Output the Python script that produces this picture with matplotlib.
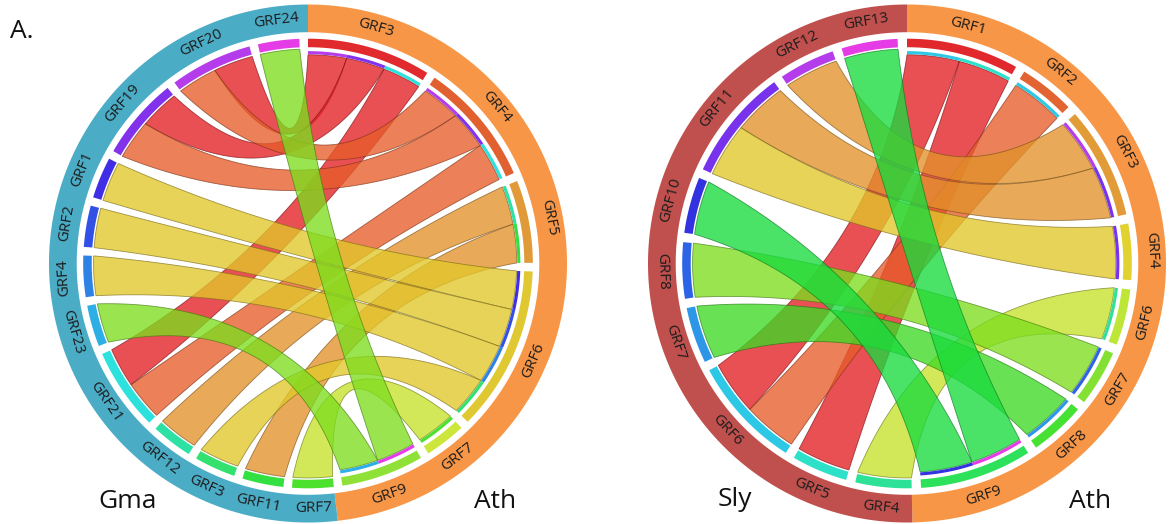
import numpy as np
import matplotlib
matplotlib.use("Agg")
import matplotlib.pyplot as plt
from matplotlib.patches import Polygon
from matplotlib.colors import to_rgb

plt.rcParams['font.family'] = ['Open Sans', 'DejaVu Sans']

# ---------------- data ----------------
# Panel 1: soybean (Gma) GRFs linked to Arabidopsis (Ath) GRFs
p1_ath_genes = ["GRF3", "GRF4", "GRF5", "GRF6", "GRF7", "GRF9"]
p1_gma_genes = ["GRF7", "GRF11", "GRF3", "GRF12", "GRF21", "GRF23",
                "GRF4", "GRF2", "GRF1", "GRF19", "GRF20", "GRF24"]
p1_link_gma      = ["GRF20", "GRF19", "GRF21", "GRF20", "GRF19", "GRF21", "GRF12", "GRF11",
                    "GRF1", "GRF2", "GRF4", "GRF3", "GRF7", "GRF24", "GRF23"]
p1_link_gma_slot = [1, 1, 1, 0, 0, 0, 0, 0, 0, 0, 0, 0, 0, 0, 0]
p1_link_ath      = ["GRF3", "GRF3", "GRF3", "GRF4", "GRF4", "GRF4", "GRF5", "GRF5",
                    "GRF6", "GRF6", "GRF6", "GRF6", "GRF7", "GRF9", "GRF9"]
p1_link_ath_slot = [0, 1, 2, 0, 1, 2, 0, 1, 0, 1, 2, 3, 0, 0, 1]
p1_link_level    = [0, 0, 0, 1, 1, 1, 2, 2, 3, 3, 3, 3, 4, 5, 5]

# Panel 2: tomato (Sly) GRFs linked to Arabidopsis (Ath) GRFs
p2_ath_genes = ["GRF1", "GRF2", "GRF3", "GRF4", "GRF6", "GRF7", "GRF8", "GRF9"]
p2_sly_genes = ["GRF4", "GRF5", "GRF6", "GRF7", "GRF8", "GRF10", "GRF11", "GRF12", "GRF13"]
p2_link_sly      = ["GRF6", "GRF5", "GRF6", "GRF12", "GRF11", "GRF11", "GRF4", "GRF8",
                    "GRF7", "GRF13", "GRF10"]
p2_link_sly_slot = [1, 0, 0, 0, 1, 0, 0, 0, 0, 0, 0]
p2_link_ath      = ["GRF1", "GRF1", "GRF2", "GRF3", "GRF3", "GRF4", "GRF6", "GRF7",
                    "GRF8", "GRF9", "GRF9"]
p2_link_ath_slot = [0, 1, 0, 0, 1, 0, 0, 0, 0, 0, 1]
p2_link_level    = [0, 0, 1, 2, 2, 3, 4, 5, 6, 7, 7]

# ---------------- styling ----------------
LEVEL_COLORS = ["#e21f24", "#e65c2a", "#e2922a", "#e2c72a",
                "#c7e22a", "#7cdd1e", "#3dda24", "#18db3d"]
p1_ath_colors = ["#e02a2e", "#e06030", "#e09a38", "#e0c832", "#cde63c", "#90e137"]
p1_gma_colors = ["#4be12d", "#32e141", "#32e16e", "#2de1a5", "#2de1dc", "#2dafe6",
                 "#2d82e6", "#3250e6", "#412de6", "#8232eb", "#b43ceb", "#e43ce6"]
p2_ath_colors = ["#e1282d", "#e16432", "#e19b37", "#e1d232", "#bee637", "#82e132",
                 "#46e132", "#2de15a"]
p2_sly_colors = ["#2de196", "#2de1c8", "#2dc8e6", "#2d96e6", "#2d64e6", "#3232e1",
                 "#7832eb", "#b43ceb", "#e63ce6"]

RING_ATH = "#f79646"
RING_GMA = "#4bacc6"
RING_SLY = "#c0504d"
TEXT_COL = "#1c1c1c"

W, H = 1171, 524
fig = plt.figure(figsize=(W / 100, H / 100), dpi=100)
ax = fig.add_axes([0, 0, 1, 1])
ax.set_xlim(0, W)
ax.set_ylim(H, 0)
ax.axis("off")

R_RING = (0.893, 1.0)
R_SECTOR = (0.835, 0.868)
R_STRIP = (0.808, 0.820)
R_SRC_END = 0.828
R_TGT_END = 0.806
R_LABEL = 0.946
BEND = 0.3


def xy(cx, cy, R, r, deg):
    t = np.radians(deg)
    return cx + R * r * np.cos(t), cy - R * r * np.sin(t)


def annulus(cx, cy, R, a0, a1, r0, r1, n=80):
    th = np.linspace(a0, a1, n)
    xo, yo = xy(cx, cy, R, r1, th)
    xi, yi = xy(cx, cy, R, r0, th[::-1])
    return np.column_stack([np.r_[xo, xi], np.r_[yo, yi]])


def bezier(cx, cy, R, r0, a0, r1, a1, n=120):
    p0 = np.array([r0 * np.cos(np.radians(a0)), r0 * np.sin(np.radians(a0))])
    p2 = np.array([r1 * np.cos(np.radians(a1)), r1 * np.sin(np.radians(a1))])
    c = BEND * (p0 + p2) / 2
    t = np.linspace(0, 1, n)[:, None]
    pts = (1 - t) ** 2 * p0 + 2 * t * (1 - t) * c + t ** 2 * p2
    return np.column_stack([cx + R * pts[:, 0], cy - R * pts[:, 1]])


def darker(c, f=0.6):
    r, g, b = to_rgb(c)
    return (r * f, g * f, b * f)


def draw_panel(cx, cy, R, tgt_genes, tgt_colors, src_genes, src_colors,
               l_src, l_src_slot, l_tgt, l_tgt_slot, l_level, gap,
               ring_tgt, ring_src, flip_from):
    tgt_n = [l_tgt.count(g) for g in tgt_genes]
    src_n = [l_src.count(g) for g in src_genes]
    nsec = len(tgt_genes) + len(src_genes)
    unit = (360.0 - nsec * gap) / (sum(tgt_n) + sum(src_n))

    spans = {}
    pos = 90.0
    for grp, genes, ns in (("t", tgt_genes, tgt_n), ("s", src_genes, src_n)):
        for g, n in zip(genes, ns):
            spans[(grp, g)] = (pos, pos - n * unit)
            pos -= n * unit + gap

    # outer species ring
    split = spans[("s", src_genes[0])][0]
    ax.add_patch(Polygon(annulus(cx, cy, R, 90, split, *R_RING, n=300),
                         closed=True, fc=ring_tgt, ec="none"))
    ax.add_patch(Polygon(annulus(cx, cy, R, split, -270, *R_RING, n=300),
                         closed=True, fc=ring_src, ec="none"))

    # sector bars and labels
    for grp, genes, cols in (("t", tgt_genes, tgt_colors), ("s", src_genes, src_colors)):
        for g, col in zip(genes, cols):
            a0, a1 = spans[(grp, g)]
            ax.add_patch(Polygon(annulus(cx, cy, R, a0, a1, *R_SECTOR),
                                 closed=True, fc=col, ec="none"))
            mid = (a0 + a1) / 2
            m = mid % 360
            rot = mid + 90 if flip_from < m < 360 else mid - 90
            lx, ly = xy(cx, cy, R, R_LABEL, mid)
            ax.text(lx, ly, g, rotation=rot, rotation_mode="anchor",
                    ha="center", va="center", fontsize=11, color=TEXT_COL)

    # links, drawn from red to green
    src_col = dict(zip(src_genes, src_colors))
    order = sorted(range(len(l_src)), key=lambda i: l_level[i])
    for i in order:
        s0, _ = spans[("s", l_src[i])]
        t0, _ = spans[("t", l_tgt[i])]
        sa0 = s0 - l_src_slot[i] * unit
        sa1 = sa0 - unit
        ta0 = t0 - l_tgt_slot[i] * unit
        ta1 = ta0 - unit
        arc_s = np.linspace(sa1, sa0, 40)
        arc_t = np.linspace(ta1, ta0, 40)
        p_s = np.column_stack(xy(cx, cy, R, R_SRC_END, arc_s))
        p_t = np.column_stack(xy(cx, cy, R, R_TGT_END, arc_t))
        e1 = bezier(cx, cy, R, R_SRC_END, sa0, R_TGT_END, ta1)
        e2 = bezier(cx, cy, R, R_TGT_END, ta0, R_SRC_END, sa1)
        poly = np.vstack([p_s, e1, p_t, e2])
        col = LEVEL_COLORS[l_level[i]]
        ax.add_patch(Polygon(poly, closed=True, fc=col, alpha=0.78,
                             ec="none", zorder=2))
        ax.add_patch(Polygon(poly, closed=True, fill=False,
                             ec=darker(col, 0.55), lw=0.6, alpha=0.7, zorder=2))
        # source colour mark at the target end
        ax.add_patch(Polygon(annulus(cx, cy, R, ta0, ta1, *R_STRIP, n=30),
                             closed=True, fc=src_col[l_src[i]], ec="none", zorder=3))


CY, RAD = 263.5, 259
draw_panel(308, CY, RAD, p1_ath_genes, p1_ath_colors, p1_gma_genes, p1_gma_colors,
           p1_link_gma, p1_link_gma_slot, p1_link_ath, p1_link_ath_slot, p1_link_level,
           2.2, RING_ATH, RING_GMA, 186)
draw_panel(907, CY, RAD, p2_ath_genes, p2_ath_colors, p2_sly_genes, p2_sly_colors,
           p2_link_sly, p2_link_sly_slot, p2_link_ath, p2_link_ath_slot, p2_link_level,
           2.4, RING_ATH, RING_SLY, 176)

big = dict(fontsize=19, color="#111111", va="baseline", ha="center")
ax.text(128, 508, "Gma", **big)
ax.text(495, 508, "Ath", **big)
ax.text(735, 506, "Sly", **big)
ax.text(1090, 508, "Ath", **big)
ax.text(10, 38, "A.", fontsize=19, color="#111111", va="baseline", ha="left")

fig.savefig("out.png", dpi=100)
